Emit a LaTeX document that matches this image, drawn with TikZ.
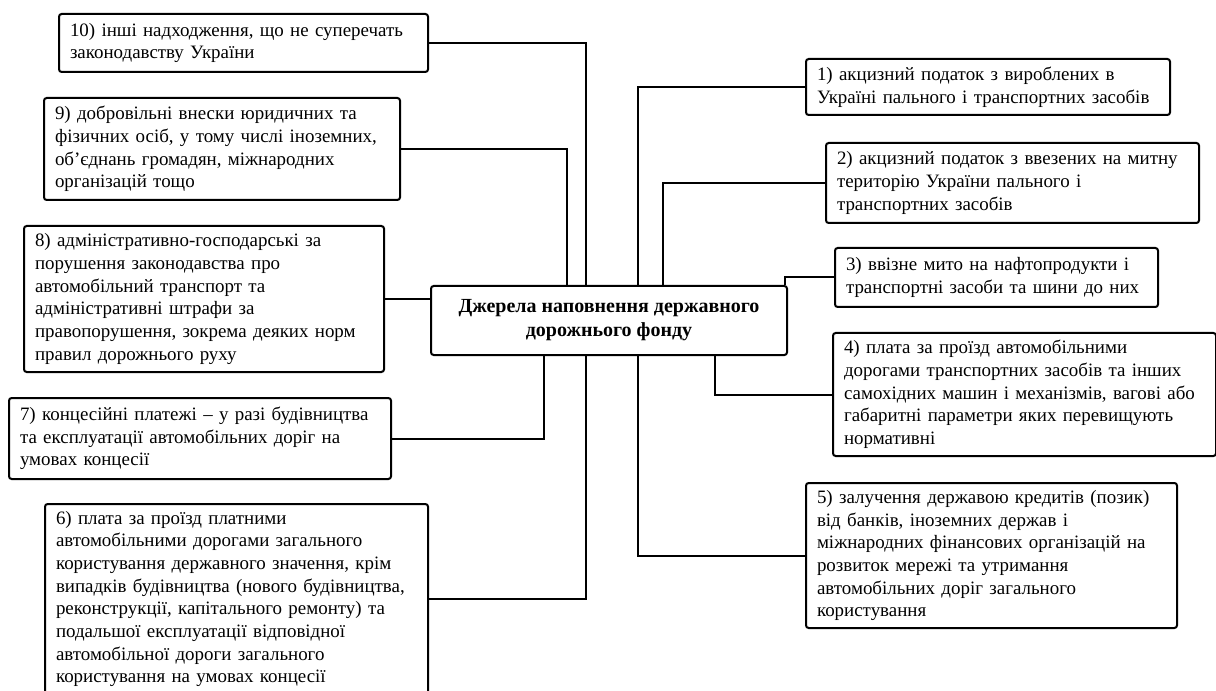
\documentclass[tikz,border=0pt]{standalone}
\usepackage{fontspec}
\setmainfont{Liberation Serif}
\usepackage{tikz}
\usetikzlibrary{calc}
\newcommand\pxu{0.75pt}

\begin{document}
\begin{tikzpicture}[x=0.75pt,y=-0.75pt,
  srcbox/.style={draw,line width=1.5pt,rounded corners=2pt,align=left,anchor=north west,
    inner xsep=11*\pxu,inner ysep=0pt,font=\fontsize{14.2pt}{17pt}\selectfont},
  rootbox/.style={draw,line width=1.5pt,rounded corners=2pt,align=center,inner sep=0pt,
    font=\fontsize{15pt}{18pt}\selectfont\bfseries},
  link/.style={line width=1.5pt}]

\useasboundingbox (0,0) rectangle (1216,691);
\clip (0,0) rectangle (1216,691);

% Centre
\node[rootbox,minimum width=356*\pxu,minimum height=69*\pxu] (root) at (609,320.5) {Джерела наповнення державного\\дорожнього фонду};

% Left sources
\node[srcbox,text width=347*\pxu,minimum height=58*\pxu] (s10) at (58,13) {10) інші надходження, що не суперечать\\законодавству України};
\node[srcbox,text width=334*\pxu,minimum height=102*\pxu] (s9) at (43,97) {9) добровільні внески юридичних та\\фізичних осіб, у тому числі іноземних,\\об'єднань громадян, міжнародних\\організацій тощо};
\node[srcbox,text width=338*\pxu,minimum height=146*\pxu] (s8) at (23,225) {8) адміністративно-господарські за\\порушення законодавства про\\автомобільний транспорт та\\адміністративні штрафи за\\правопорушення, зокрема деяких норм\\правил дорожнього руху};
\node[srcbox,text width=360*\pxu,minimum height=81*\pxu] (s7) at (8,397) {7) концесійні платежі – у разі будівництва\\та експлуатації автомобільних доріг на\\умовах концесії};
\node[srcbox,text width=361*\pxu,minimum height=190*\pxu] (s6) at (44,503) {6) плата за проїзд платними\\автомобільними дорогами загального\\користування державного значення, крім\\випадків будівництва (нового будівництва,\\реконструкції, капітального ремонту) та\\подальшої експлуатації відповідної\\автомобільної дороги загального\\користування на умовах концесії};

% Right sources
\node[srcbox,text width=342*\pxu,minimum height=56*\pxu] (s1) at (805,58) {1) акцизний податок з вироблених в\\Україні пального і транспортних засобів};
\node[srcbox,text width=351*\pxu,minimum height=80*\pxu] (s2) at (825,142) {2) акцизний податок з ввезених на митну\\територію України пального і\\транспортних засобів};
\node[srcbox,text width=301*\pxu,minimum height=59*\pxu] (s3) at (834,247) {3) ввізне мито на нафтопродукти і\\транспортні засоби та шини до них};
\node[srcbox,text width=361*\pxu,minimum height=123*\pxu] (s4) at (832,332) {4) плата за проїзд автомобільними\\дорогами транспортних засобів та інших\\самохідних машин і механізмів, вагові або\\габаритні параметри яких перевищують\\нормативні};
\node[srcbox,text width=349*\pxu,minimum height=145*\pxu] (s5) at (805,482) {5) залучення державою кредитів (позик)\\від банків, іноземних держав і\\міжнародних фінансових організацій на\\розвиток мережі та утримання\\автомобільних доріг загального\\користування};

% Connectors
\draw[link] (s10.east) -| ([xshift=-23*\pxu]root.north);
\draw[link] (s9.east) -| ([xshift=-42*\pxu]root.north);
\draw[link] (s8.east) -- (s8.east -| root.west);
\draw[link] (s7.east) -| ([xshift=-65*\pxu]root.south);
\draw[link] (s6.east) -| ([xshift=-23*\pxu]root.south);
\draw[link] (s1.west) -| ([xshift=29*\pxu]root.north);
\draw[link] (s2.west) -| ([xshift=54*\pxu]root.north);
\draw[link] (s3.west) -| ([xshift=176*\pxu]root.north);
\draw[link] (s4.west) -| ([xshift=106*\pxu]root.south);
\draw[link] (s5.west) -| ([xshift=29*\pxu]root.south);

\end{tikzpicture}
\end{document}
